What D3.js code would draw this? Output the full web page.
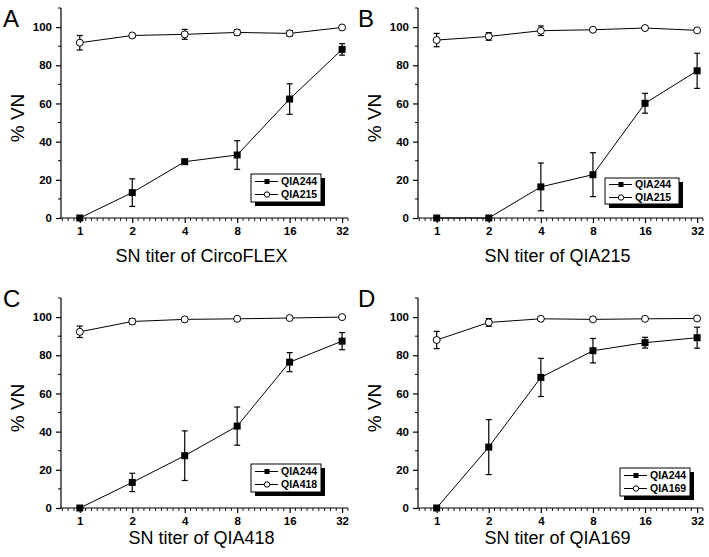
<!DOCTYPE html>
<html><head><meta charset="utf-8">
<script src="https://cdn.jsdelivr.net/npm/d3@7"></script>
<style>body{margin:0;background:#fff}svg{display:block}</style>
</head><body><svg id="c" width="709" height="557"></svg>
<script>
// ---- data ----
const titers = [1, 2, 4, 8, 16, 32];
const xTickLabels = ["1", "2", "4", "8", "16", "32"];
const yTicks = [0, 20, 40, 60, 80, 100];
const panelLetters = ["A", "B", "C", "D"];
const xTitles = ["SN titer of CircoFLEX", "SN titer of QIA215", "SN titer of QIA418", "SN titer of QIA169"];
const filledNames = ["QIA244", "QIA244", "QIA244", "QIA244"];
const openNames = ["QIA215", "QIA215", "QIA418", "QIA169"];

const A244 = [0, 13.3, 29.5, 33, 62.3, 88.3];
const A244err = [0, 7.2, 1, 7.5, 8, 3];
const A215 = [91.8, 95.6, 96.2, 97.2, 96.7, 99.8];
const A215err = [3.8, 1, 2.6, 1.5, 1.5, 0.8];

const B244 = [0, 0, 16.3, 22.7, 60.1, 77.1];
const B244err = [0, 0, 12.5, 11.5, 5.2, 9.2];
const B215 = [93.2, 95.1, 98.1, 98.6, 99.5, 98.3];
const B215err = [3.5, 2, 2.5, 1, 0.8, 1];

const C244 = [0, 13.4, 27.4, 42.9, 76.4, 87.4];
const C244err = [0, 4.8, 13, 10, 5, 4.5];
const C418 = [92.3, 97.7, 98.8, 99.1, 99.5, 100];
const C418err = [3, 1.5, 1, 0.8, 0.5, 0.5];

const D244 = [0, 31.9, 68.4, 82.4, 86.6, 89.2];
const D244err = [0, 14.4, 10, 6.4, 2.8, 5.5];
const D169 = [88, 97.2, 99.1, 98.8, 99.1, 99.3];
const D169err = [4.5, 2, 1, 1, 0.8, 0.5];

const filled = [A244, B244, C244, D244];
const filledErr = [A244err, B244err, C244err, D244err];
const open = [A215, B215, C418, D169];
const openErr = [A215err, B215err, C418err, D169err];

// ---- layout ----
const layout = [
  {ax: 61, right: 348, top: 8, bottom: 218, lx: 190, ly: 166, lw: 70, lh: 28, px: 3, py: 27, tt: 44},
  {ax: 418, right: 703, top: 8, bottom: 218, lx: 187, ly: 170, lw: 74, lh: 26, px: 358, py: 27, tt: 44},
  {ax: 61, right: 348, top: 298, bottom: 508, lx: 190, ly: 166, lw: 70, lh: 28, px: 3, py: 307, tt: 36},
  {ax: 418, right: 703, top: 298, bottom: 508, lx: 202, ly: 170, lw: 70, lh: 28, px: 358, py: 307, tt: 36}
];

const svg = d3.select("#c");
const tickFont = "Liberation Sans, Arial, sans-serif";

layout.forEach((L, i) => {
  const g = svg.append("g");
  const x = d3.scaleLog().base(2).domain([0.78, 34.6]).range([L.ax, L.right]);
  const y = d3.scaleLinear().domain([0, 110]).range([L.bottom, L.top]);

  // axes lines
  g.append("line").attr("x1", L.ax).attr("x2", L.ax).attr("y1", y(110)).attr("y2", y(0)).attr("stroke", "#000").attr("stroke-width", 1.2);
  g.append("line").attr("x1", L.ax).attr("x2", L.right).attr("y1", y(0)).attr("y2", y(0)).attr("stroke", "#000").attr("stroke-width", 1.2);

  // y ticks
  const yAxis = d3.axisLeft(y).tickValues(yTicks).tickSize(5).tickFormat(d3.format("d"));
  const ya = g.append("g").attr("transform", `translate(${L.ax},0)`).call(yAxis);
  ya.select(".domain").remove();
  ya.selectAll("line").attr("stroke-width", 1.2);
  ya.selectAll("text").attr("font-family", tickFont).attr("font-size", 11.5).attr("font-weight", "bold").attr("dx", "-1");
  // y minor
  const yMinor = d3.range(10, 111, 20);
  g.selectAll(".ym").data(yMinor).enter().append("line")
    .attr("x1", L.ax - 3).attr("x2", L.ax).attr("y1", d => y(d)).attr("y2", d => y(d)).attr("stroke", "#000");

  // x ticks
  const xAxis = d3.axisBottom(x).tickValues(titers).tickSize(5).tickFormat((d, k) => xTickLabels[k]);
  const xa = g.append("g").attr("transform", `translate(0,${L.bottom})`).call(xAxis);
  xa.select(".domain").remove();
  xa.selectAll("line").attr("stroke-width", 1.2);
  xa.selectAll("text").attr("font-family", tickFont).attr("font-size", 11.5).attr("font-weight", "bold").attr("dy", "0.75em");
  // x minor ticks (log2 subdivisions)
  const lo = Math.log2(0.78), hi = Math.log2(34.6);
  const minor = [];
  for (let e = -1; e <= 5; e++) {
    for (let k = 1; k < 9; k++) {
      const v = e + k / 9;
      if (v > lo && v < hi) minor.push(Math.pow(2, v));
    }
  }
  g.selectAll(".xm").data(minor).enter().append("line")
    .attr("x1", d => x(d)).attr("x2", d => x(d)).attr("y1", L.bottom).attr("y2", L.bottom + 3).attr("stroke", "#000").attr("stroke-width", 0.9);

  // axis titles
  g.append("text").attr("x", (L.ax + L.right) / 2 - 3).attr("y", L.bottom + L.tt)
    .attr("text-anchor", "middle").attr("font-family", tickFont).attr("font-size", 18).text(xTitles[i]);
  g.append("text").attr("transform", `translate(${L.ax - 37},${(L.top + L.bottom) / 2 + 5}) rotate(-90)`)
    .attr("text-anchor", "middle").attr("font-family", tickFont).attr("font-size", 19).text("% VN");
  // panel letter
  g.append("text").attr("x", L.px).attr("y", L.py).attr("font-family", tickFont).attr("font-size", 24).text(panelLetters[i]);

  const line = d3.line().x(d => x(d[0])).y(d => y(d[1]));
  const drawSeries = (vals, errs, isFilled) => {
    const pts = titers.map((t, k) => [t, vals[k], errs[k]]);
    g.append("path").datum(pts).attr("d", line).attr("fill", "none").attr("stroke", "#000").attr("stroke-width", 1);
    const eb = g.append("g");
    pts.filter(p => p[2] > 0).forEach(p => {
      const cx = x(p[0]);
      eb.append("line").attr("x1", cx).attr("x2", cx).attr("y1", y(p[1] + p[2])).attr("y2", y(p[1] - p[2])).attr("stroke", "#000").attr("stroke-width", 1.2);
      [p[1] + p[2], p[1] - p[2]].forEach(v => {
        eb.append("line").attr("x1", cx - 3).attr("x2", cx + 3).attr("y1", y(v)).attr("y2", y(v)).attr("stroke", "#000").attr("stroke-width", 1.2);
      });
    });
    if (isFilled) {
      g.selectAll(null).data(pts).enter().append("rect")
        .attr("x", d => x(d[0]) - 3.5).attr("y", d => y(d[1]) - 3.5).attr("width", 7).attr("height", 7).attr("fill", "#000");
    } else {
      g.selectAll(null).data(pts).enter().append("circle")
        .attr("cx", d => x(d[0])).attr("cy", d => y(d[1])).attr("r", 3.5).attr("fill", "#fff").attr("stroke", "#000").attr("stroke-width", 1);
    }
  };
  drawSeries(open[i], openErr[i], false);
  drawSeries(filled[i], filledErr[i], true);

  // legend
  const lx = L.ax + L.lx, ly = L.top + L.ly;
  g.append("rect").attr("x", lx + 4).attr("y", ly + 4).attr("width", L.lw).attr("height", L.lh).attr("fill", "#000");
  g.append("rect").attr("x", lx).attr("y", ly).attr("width", L.lw).attr("height", L.lh).attr("fill", "#fff").attr("stroke", "#000").attr("stroke-width", 1);
  const rows = [[filledNames[i], true], [openNames[i], false]];
  rows.forEach((r, k) => {
    const ry = ly + L.lh / 2 + (k === 0 ? -6.5 : 6.5);
    g.append("line").attr("x1", lx + 4).attr("x2", lx + 27).attr("y1", ry).attr("y2", ry).attr("stroke", "#000");
    if (r[1]) g.append("rect").attr("x", lx + 13.5).attr("y", ry - 2.5).attr("width", 5).attr("height", 5).attr("fill", "#000");
    else g.append("circle").attr("cx", lx + 16).attr("cy", ry).attr("r", 2.7).attr("fill", "#fff").attr("stroke", "#000");
    g.append("text").attr("x", lx + 30).attr("y", ry + 3.8).attr("font-family", tickFont).attr("font-size", 10.5).attr("font-weight", "bold").text(r[0]);
  });
});
</script></body></html>
